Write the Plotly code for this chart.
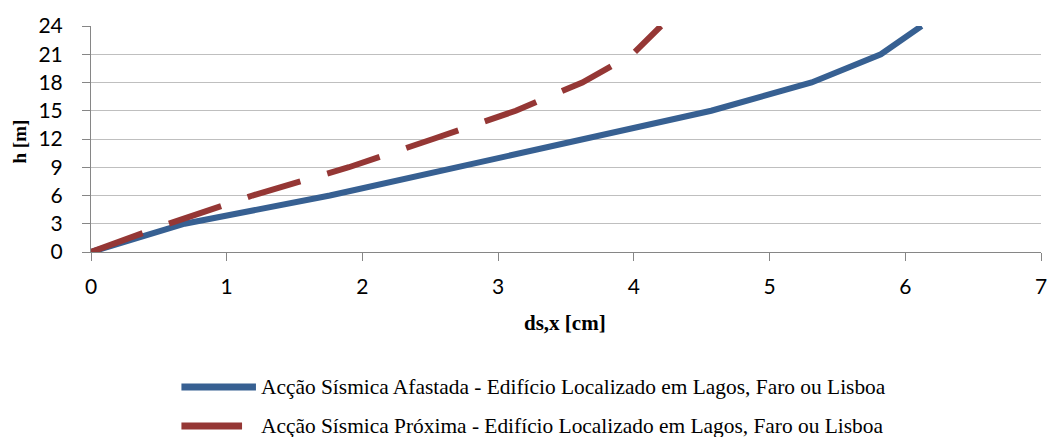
import plotly.graph_objects as go

# Data
h_levels = [0, 3, 6, 9, 12, 15, 18, 21, 24]
ds_afastada = [0, 0.69, 1.76, 2.70, 3.60, 4.57, 5.31, 5.82, 6.12]
ds_proxima = [0, 0.57, 1.19, 1.90, 2.52, 3.13, 3.62, 3.99, 4.20]
series_names = [
    "Acção Sísmica Afastada - Edifício Localizado em Lagos, Faro ou Lisboa",
    "Acção Sísmica Próxima - Edifício Localizado em Lagos, Faro ou Lisboa",
]
x_ticks = [0, 1, 2, 3, 4, 5, 6, 7]
y_ticks = [0, 3, 6, 9, 12, 15, 18, 21, 24]

BLUE = "#376092"
RED = "#953735"
SERIF = "Liberation Serif, Times New Roman, serif"
W, H = 1053, 437
L, R, T, B = 91, 6, 26, 185
PW, PH = W - L - R, H - T - B

fig = go.Figure()
fig.add_trace(go.Scatter(x=ds_afastada, y=h_levels, mode="lines",
                         line=dict(color=BLUE, width=6), name=series_names[0],
                         showlegend=False))
fig.add_trace(go.Scatter(x=ds_proxima, y=h_levels, mode="lines",
                         line=dict(color=RED, width=6, dash="55px,28px"),
                         name=series_names[1], showlegend=False))

tickfont = dict(family="Lato", size=21, color="#000000")
fig.update_xaxes(range=[0, 7], tickvals=x_ticks, showgrid=False, zeroline=False,
                 showline=True, linecolor="#868686", linewidth=1,
                 ticks="outside", ticklen=8, tickcolor="#868686",
                 tickfont=tickfont, fixedrange=True, ticklabeloverflow="allow",
                 ticklabelstandoff=8)
fig.update_yaxes(range=[0, 24], tickvals=y_ticks, showgrid=True, gridcolor="#BFBFBF",
                 gridwidth=1, zeroline=False, showline=True, linecolor="#868686",
                 linewidth=1, ticks="outside", ticklen=8, tickcolor="#868686",
                 tickfont=tickfont, fixedrange=True, ticklabelstandoff=15)


def pxx(p):
    return (p - L) / PW


def pxy(p):
    return -(p - (H - B)) / PH


annotations = [
    dict(text="<b>ds,x [cm]</b>", xref="paper", yref="paper",
         x=pxx(568), y=pxy(323),
         showarrow=False, xanchor="center", yanchor="middle",
         font=dict(family=SERIF, size=21, color="#000000")),
    dict(text="<b>h [m]</b>", xref="paper", yref="paper",
         x=pxx(19), y=pxy(141), textangle=-90,
         showarrow=False, xanchor="center", yanchor="middle",
         font=dict(family=SERIF, size=19, color="#000000")),
]
shapes = []
legend_rows = [(387, 182, 257, BLUE, series_names[0]), (426, 182, 243, RED, series_names[1])]
for y, x0, x1, col, name in legend_rows:
    shapes.append(dict(type="rect", xref="paper", yref="paper",
                       x0=pxx(x0), x1=pxx(x1), y0=pxy(y + 3.5), y1=pxy(y - 3.5),
                       fillcolor=col, line=dict(width=0), layer="above"))
    annotations.append(dict(text=name, xref="paper", yref="paper",
                            x=pxx(260), y=pxy(y), showarrow=False,
                            xanchor="left", yanchor="middle",
                            font=dict(family=SERIF, size=21.4, color="#000000")))

fig.update_layout(width=W, height=H, margin=dict(l=L, r=R, t=T, b=B),
                  paper_bgcolor="white", plot_bgcolor="white",
                  annotations=annotations, shapes=shapes, showlegend=False)

fig.write_html("out.html", config={"displayModeBar": False})

with open("out.html", "r", encoding="utf-8") as f:
    html = f.read()
html = html.replace("<head>", "<head><style>html,body{margin:0;padding:0;overflow:hidden;}</style>", 1)
with open("out.html", "w", encoding="utf-8") as f:
    f.write(html)
